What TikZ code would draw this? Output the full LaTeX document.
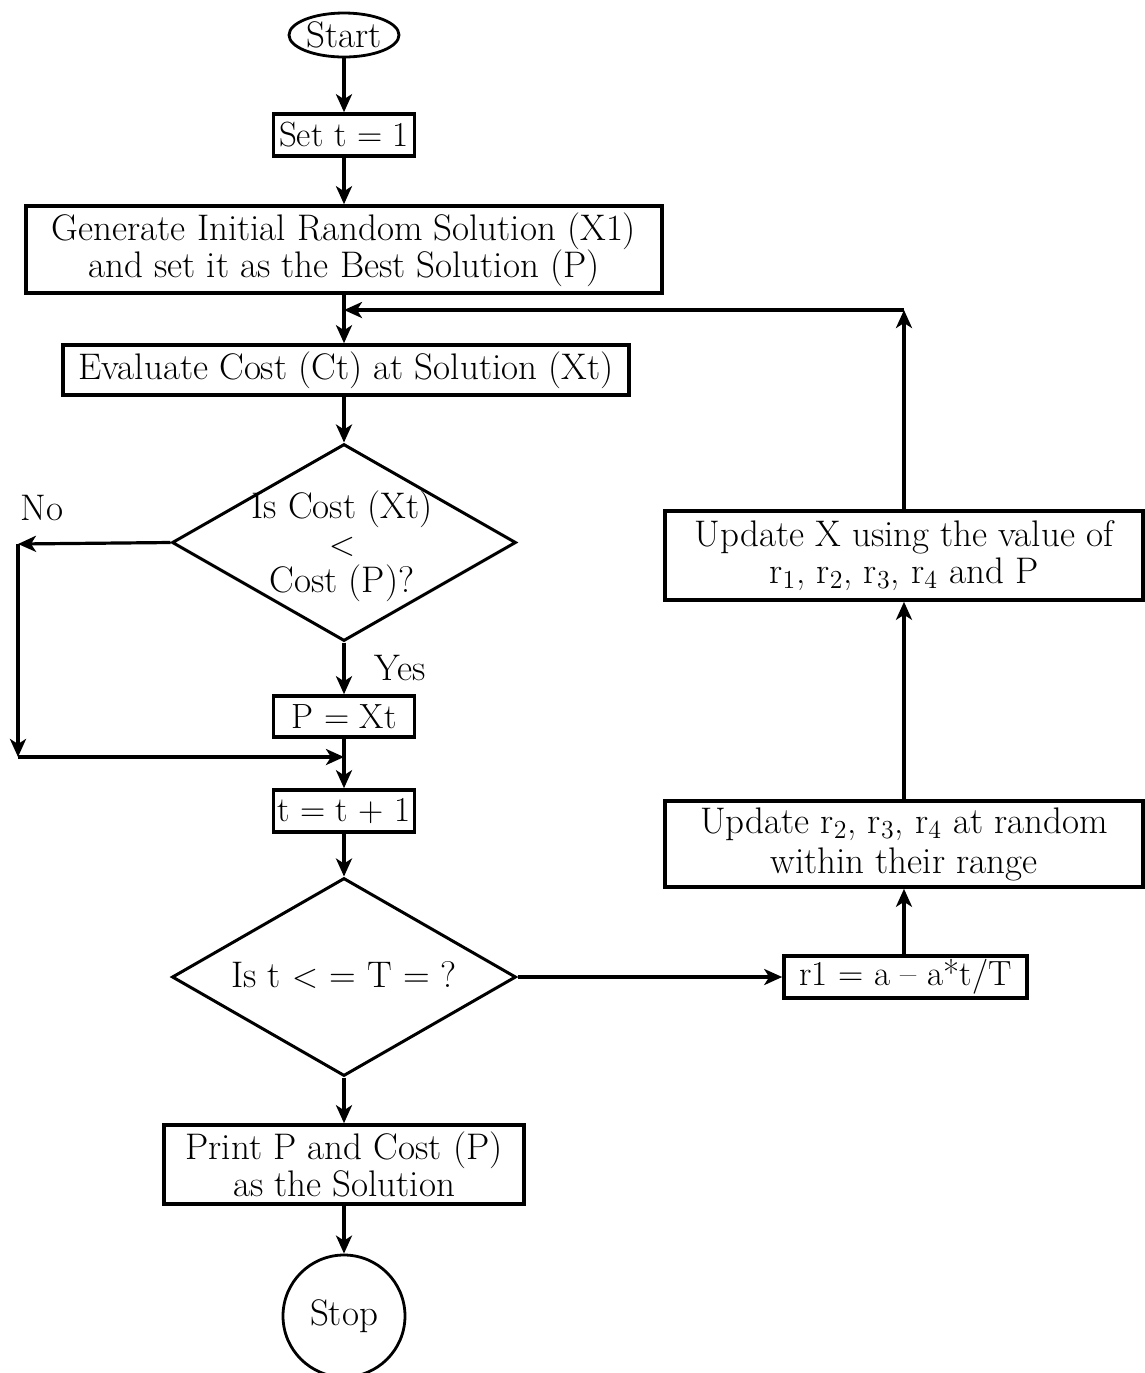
\documentclass[tikz,border=0pt]{standalone}
\usetikzlibrary{shapes.geometric,arrows.meta}
\begin{document}
\begin{tikzpicture}[x=0.5pt,y=-0.5pt,
  every node/.style={font=\fontsize{18.5}{18.5}\selectfont},
  smalltext/.style={font=\fontsize{17.5}{18.5}\selectfont},
  procbox/.style={draw,line width=1.8pt,rectangle,inner sep=0pt,align=center},
  decision/.style={draw,line width=1.5pt,diamond,inner sep=0pt},
  terminal/.style={draw,line width=1.4pt,inner sep=0pt},
  arr/.style={line width=1.6pt,-{Stealth[length=9pt,width=8pt,inset=2.5pt]}}]
\useasboundingbox (0,0) rectangle (1145,1373);

% main column
\node[terminal,ellipse,minimum width=55pt,minimum height=22pt] (start) at (344,35) {Start};
\node[procbox,smalltext,minimum width=70.5pt,minimum height=21pt] (set) at (344,135) {Set t = 1};
\node[procbox,minimum width=318pt,minimum height=43.5pt] (gen) at (344,249.5)
  {Generate Initial Random Solution (X1)\\and set it as the Best Solution (P)};
\node[procbox,minimum width=283pt,minimum height=25pt] (eval) at (346,370)
  {Evaluate Cost (Ct) at Solution (Xt)};
\node[decision,minimum width=172pt,minimum height=98.5pt] (d1) at (344,542.5) {};
\node[align=center,inner sep=0pt] (d1txt) at (342,546) {Is Cost (Xt)\\$<$\\Cost (P)?};
\node[procbox,smalltext,minimum width=70.5pt,minimum height=20.5pt] (pxt) at (344,716.5) {P = Xt};
\node[procbox,smalltext,minimum width=70.5pt,minimum height=21pt] (tt) at (344,811) {t = t + 1};
\node[decision,minimum width=172pt,minimum height=99pt] (d2) at (344,977) {};
\node[inner sep=0pt] (d2txt) at (344,975) {Is t $<$ = T = ?};
\node[procbox,minimum width=180pt,minimum height=39.5pt] (print) at (344,1164.5)
  {Print P and Cost (P)\\as the Solution};
\node[terminal,circle,minimum size=61pt] (stop) at (344,1316) {Stop};

% right column
\node[procbox,smalltext,minimum width=121.5pt,minimum height=21pt] (r1) at (905.5,977)
  {r1 = a -- a*t/T};
\node[procbox,minimum width=239pt,minimum height=43pt] (upr) at (904,844)
  {Update r\textsubscript{2}, r\textsubscript{3}, r\textsubscript{4} at random\\[1.5pt]within their range};
\node[procbox,minimum width=239pt,minimum height=44.5pt] (updx) at (904,555.5)
  {Update X using the value of\\r\textsubscript{1}, r\textsubscript{2}, r\textsubscript{3}, r\textsubscript{4} and P};

% branch labels
\node[inner sep=0pt] (nolbl) at (42,508) {No};
\node[inner sep=0pt] (yeslbl) at (400,668) {Yes};

% junction points
\coordinate (j1) at (344,310);
\coordinate (c1) at (updx.north |- j1);
\coordinate (n1) at (18,544);
\coordinate (n2) at (18,757);
\coordinate (j2) at (tt.north |- n2);

% connectors
\draw[arr] (start) -- (set);
\draw[arr] (set) -- (gen);
\draw[arr] (gen) -- (gen.south |- eval.north);
\draw[arr] (d1.north |- eval.south) -- (d1.north);
\draw[arr] (d1.west) -- (n1);
\draw[arr] (n1) -- (n2);
\draw[arr] (n2) -- (j2);
\draw[arr] (d1.south) -- (pxt);
\draw[arr] (pxt) -- (tt);
\draw[arr] (tt) -- (d2.north);
\draw[arr] (d2.east) -- (r1.west);
\draw[arr] (upr.south |- r1.north) -- (upr.south);
\draw[arr] (upr) -- (updx);
\draw[arr] (updx.north) -- (c1);
\draw[arr] (c1) -- (j1);
\draw[arr] (d2.south) -- (print);
\draw[arr] (print) -- (stop);
\end{tikzpicture}
\end{document}
